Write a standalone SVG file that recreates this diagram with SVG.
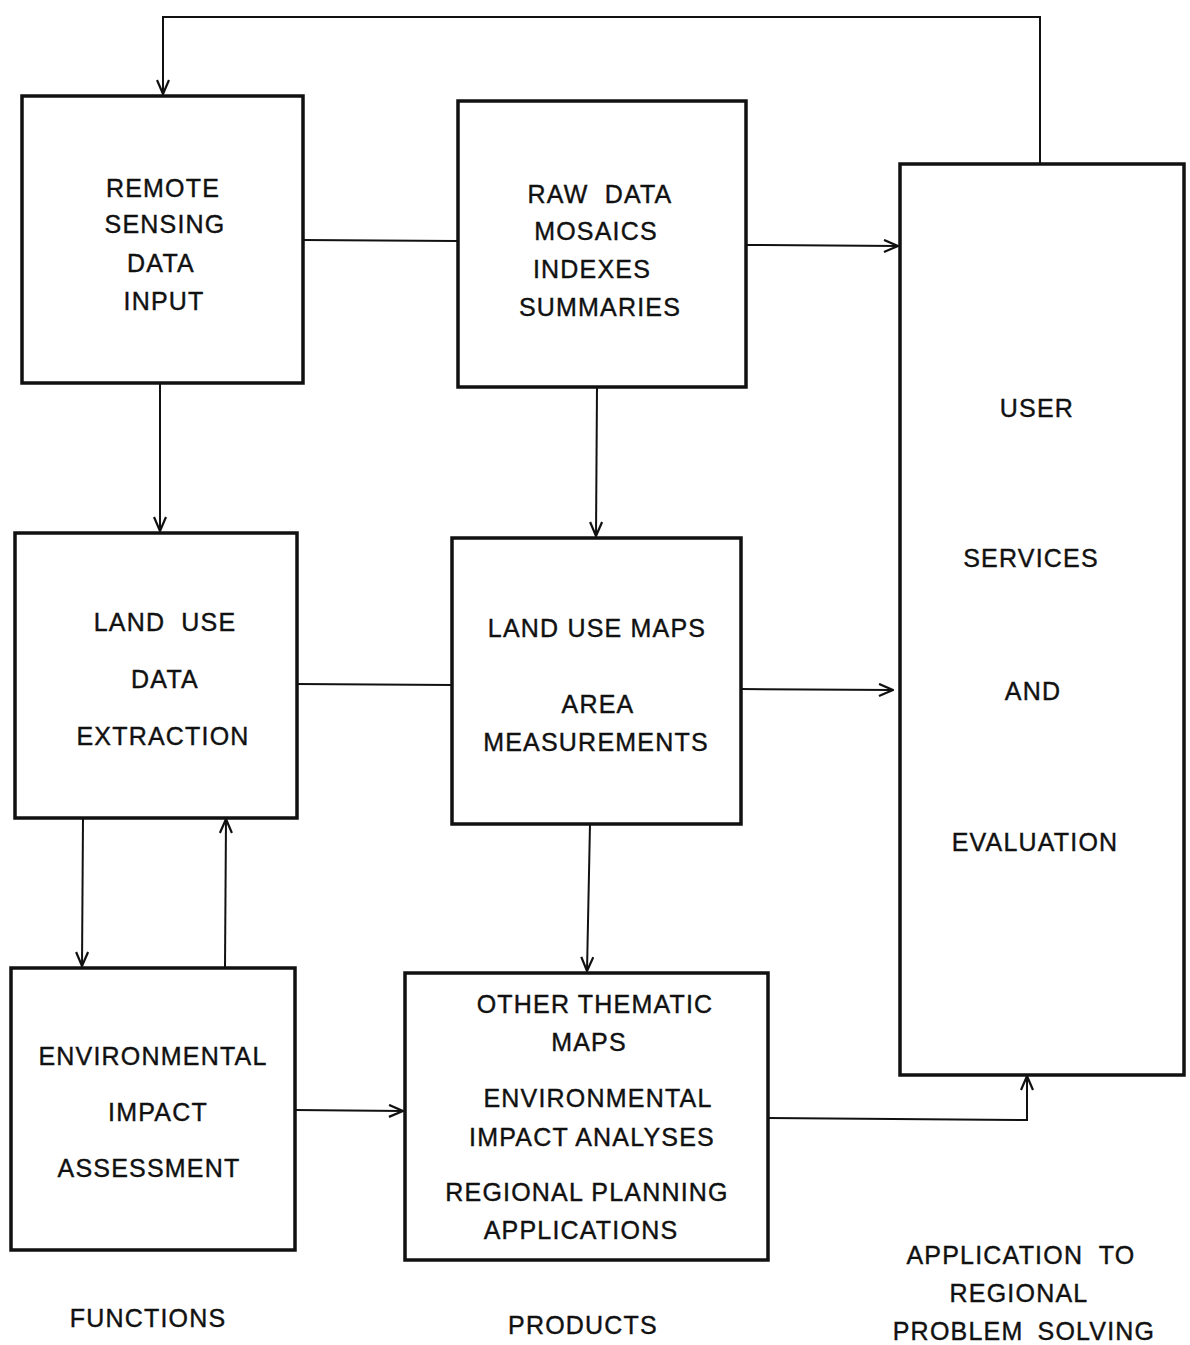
<svg xmlns="http://www.w3.org/2000/svg" width="1190" height="1345" viewBox="0 0 1190 1345">
<style>
.box{fill:none;stroke:#111;stroke-width:3.5}
.c{fill:none;stroke:#111;stroke-width:2}
text{font-family:"Liberation Sans",Arial,sans-serif;font-size:25px;fill:#111;stroke:#111;stroke-width:0.4;text-anchor:middle;letter-spacing:1.2px}
</style>
<defs>
<marker id="ah" viewBox="0 0 16 14" refX="15" refY="7" markerWidth="16" markerHeight="14" markerUnits="userSpaceOnUse" orient="auto">
<path d="M1,1 L15,7 L1,13" fill="none" stroke="#111" stroke-width="2.2"/>
</marker>
</defs>
<rect width="1190" height="1345" fill="#fff"/>
<g id="connectors">
<polyline class="c" points="1040,163 1040,17 163,17 163,94" marker-end="url(#ah)"/>
<line class="c" x1="303" y1="240" x2="457" y2="241"/>
<line class="c" x1="746" y1="245" x2="898" y2="246" marker-end="url(#ah)"/>
<line class="c" x1="160" y1="383" x2="160" y2="531" marker-end="url(#ah)"/>
<line class="c" x1="597" y1="387" x2="596" y2="536" marker-end="url(#ah)"/>
<line class="c" x1="297" y1="684" x2="452" y2="685"/>
<line class="c" x1="741" y1="689" x2="893" y2="690" marker-end="url(#ah)"/>
<line class="c" x1="83" y1="818" x2="82" y2="966" marker-end="url(#ah)"/>
<line class="c" x1="225" y1="967" x2="226" y2="819" marker-end="url(#ah)"/>
<line class="c" x1="590" y1="824" x2="587" y2="971" marker-end="url(#ah)"/>
<line class="c" x1="295" y1="1110" x2="403" y2="1111" marker-end="url(#ah)"/>
<polyline class="c" points="768,1118 1027,1120 1027,1076" marker-end="url(#ah)"/>
</g>
<g id="remote-sensing">
<rect class="box" x="22" y="96" width="281" height="287"/>
<text x="163" y="197">REMOTE</text>
<text x="165" y="233">SENSING</text>
<text x="161" y="272">DATA</text>
<text x="164" y="310">INPUT</text>
</g>
<g id="raw-data">
<rect class="box" x="458" y="101" width="288" height="286"/>
<text x="600" y="203" style="word-spacing:8px">RAW DATA</text>
<text x="596" y="240">MOSAICS</text>
<text x="592" y="278">INDEXES</text>
<text x="600" y="316">SUMMARIES</text>
</g>
<g id="user-services">
<rect class="box" x="900" y="164" width="284" height="911"/>
<text x="1037" y="417">USER</text>
<text x="1031" y="567">SERVICES</text>
<text x="1033" y="700">AND</text>
<text x="1035" y="851">EVALUATION</text>
</g>
<g id="land-use-extraction">
<rect class="box" x="15" y="533" width="282" height="285"/>
<text x="165" y="631" style="word-spacing:8px">LAND USE</text>
<text x="165" y="688">DATA</text>
<text x="163" y="745">EXTRACTION</text>
</g>
<g id="land-use-maps">
<rect class="box" x="452" y="538" width="289" height="286"/>
<text x="597" y="637">LAND USE MAPS</text>
<text x="598" y="713">AREA</text>
<text x="596" y="751">MEASUREMENTS</text>
</g>
<g id="environmental-impact-assessment">
<rect class="box" x="11" y="968" width="284" height="282"/>
<text x="153" y="1065">ENVIRONMENTAL</text>
<text x="158" y="1121">IMPACT</text>
<text x="149" y="1177">ASSESSMENT</text>
</g>
<g id="other-thematic-maps">
<rect class="box" x="405" y="973" width="363" height="287"/>
<text x="595" y="1013">OTHER THEMATIC</text>
<text x="589" y="1051">MAPS</text>
<text x="598" y="1107">ENVIRONMENTAL</text>
<text x="592" y="1146">IMPACT ANALYSES</text>
<text x="587" y="1201">REGIONAL PLANNING</text>
<text x="581" y="1239">APPLICATIONS</text>
</g>
<g id="labels">
<text x="148" y="1327">FUNCTIONS</text>
<text x="583" y="1334">PRODUCTS</text>
<text x="1021" y="1264" style="word-spacing:8px">APPLICATION TO</text>
<text x="1019" y="1302">REGIONAL</text>
<text x="1024" y="1340" style="word-spacing:6px">PROBLEM SOLVING</text>
</g>
</svg>
